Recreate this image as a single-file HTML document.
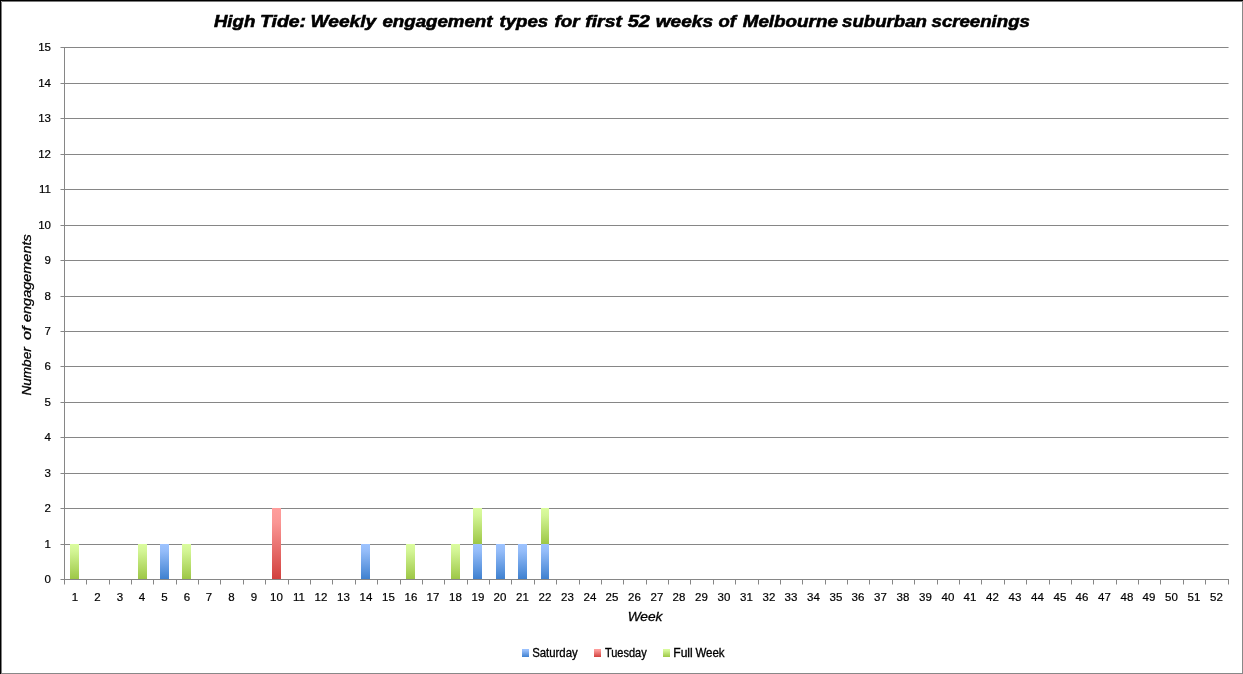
<!DOCTYPE html>
<html><head><meta charset="utf-8"><title>High Tide</title>
<style>
html,body{margin:0;padding:0;background:#fff;}
body{width:1243px;height:674px;overflow:hidden;}
svg{display:block;will-change:transform;}
text{font-family:"Liberation Sans",sans-serif;fill:#000;}
.tk{font-size:11.5px;stroke:#000;stroke-width:0.2px;}
</style></head><body>
<svg width="1243" height="674" viewBox="0 0 1243 674">
<defs>
<linearGradient id="gb" x1="0" y1="0" x2="0" y2="1"><stop offset="0" stop-color="#9DC3FF"/><stop offset="0.2" stop-color="#94BCF9"/><stop offset="1" stop-color="#3F81D0"/></linearGradient>
<linearGradient id="gr" x1="0" y1="0" x2="0" y2="1"><stop offset="0" stop-color="#FF9E9C"/><stop offset="0.2" stop-color="#FA9694"/><stop offset="1" stop-color="#D2413E"/></linearGradient>
<linearGradient id="gg" x1="0" y1="0" x2="0" y2="1"><stop offset="0" stop-color="#DBFC9E"/><stop offset="0.2" stop-color="#D3F595"/><stop offset="1" stop-color="#9DC746"/></linearGradient>
</defs>
<rect x="0" y="0" width="1243" height="674" fill="#fff"/>
<g stroke="#868686" stroke-width="1" shape-rendering="crispEdges">
<line x1="64.5" y1="544.5" x2="1228" y2="544.5"/>
<line x1="1228" y1="544.5" x2="1229" y2="544.5" stroke="#BDBDBD"/>
<line x1="64.5" y1="508.5" x2="1228" y2="508.5"/>
<line x1="1228" y1="508.5" x2="1229" y2="508.5" stroke="#BDBDBD"/>
<line x1="64.5" y1="473.5" x2="1228" y2="473.5"/>
<line x1="1228" y1="473.5" x2="1229" y2="473.5" stroke="#BDBDBD"/>
<line x1="64.5" y1="437.5" x2="1228" y2="437.5"/>
<line x1="1228" y1="437.5" x2="1229" y2="437.5" stroke="#BDBDBD"/>
<line x1="64.5" y1="402.5" x2="1228" y2="402.5"/>
<line x1="1228" y1="402.5" x2="1229" y2="402.5" stroke="#BDBDBD"/>
<line x1="64.5" y1="366.5" x2="1228" y2="366.5"/>
<line x1="1228" y1="366.5" x2="1229" y2="366.5" stroke="#BDBDBD"/>
<line x1="64.5" y1="331.5" x2="1228" y2="331.5"/>
<line x1="1228" y1="331.5" x2="1229" y2="331.5" stroke="#BDBDBD"/>
<line x1="64.5" y1="296.5" x2="1228" y2="296.5"/>
<line x1="1228" y1="296.5" x2="1229" y2="296.5" stroke="#BDBDBD"/>
<line x1="64.5" y1="260.5" x2="1228" y2="260.5"/>
<line x1="1228" y1="260.5" x2="1229" y2="260.5" stroke="#BDBDBD"/>
<line x1="64.5" y1="225.5" x2="1228" y2="225.5"/>
<line x1="1228" y1="225.5" x2="1229" y2="225.5" stroke="#BDBDBD"/>
<line x1="64.5" y1="189.5" x2="1228" y2="189.5"/>
<line x1="1228" y1="189.5" x2="1229" y2="189.5" stroke="#BDBDBD"/>
<line x1="64.5" y1="154.5" x2="1228" y2="154.5"/>
<line x1="1228" y1="154.5" x2="1229" y2="154.5" stroke="#BDBDBD"/>
<line x1="64.5" y1="118.5" x2="1228" y2="118.5"/>
<line x1="1228" y1="118.5" x2="1229" y2="118.5" stroke="#BDBDBD"/>
<line x1="64.5" y1="83.5" x2="1228" y2="83.5"/>
<line x1="1228" y1="83.5" x2="1229" y2="83.5" stroke="#BDBDBD"/>
<line x1="64.5" y1="47.5" x2="1228" y2="47.5"/>
<line x1="1228" y1="47.5" x2="1229" y2="47.5" stroke="#BDBDBD"/>
</g>
<rect x="70" y="544" width="9" height="35" fill="url(#gg)"/>
<rect x="138" y="544" width="9" height="35" fill="url(#gg)"/>
<rect x="160" y="544" width="9" height="35" fill="url(#gb)"/>
<rect x="182" y="544" width="9" height="35" fill="url(#gg)"/>
<rect x="272" y="508" width="9" height="71" fill="url(#gr)"/>
<rect x="361" y="544" width="9" height="35" fill="url(#gb)"/>
<rect x="406" y="544" width="9" height="35" fill="url(#gg)"/>
<rect x="451" y="544" width="9" height="35" fill="url(#gg)"/>
<rect x="473" y="544" width="9" height="35" fill="url(#gb)"/>
<rect x="473" y="508" width="9" height="36" fill="url(#gg)"/>
<rect x="496" y="544" width="9" height="35" fill="url(#gb)"/>
<rect x="518" y="544" width="9" height="35" fill="url(#gb)"/>
<rect x="541" y="544" width="8" height="35" fill="url(#gb)"/>
<rect x="541" y="508" width="8" height="36" fill="url(#gg)"/>
<g stroke="#868686" stroke-width="1" shape-rendering="crispEdges">
<line x1="64.5" y1="46.5" x2="64.5" y2="580.0"/>
<line x1="64.0" y1="579.5" x2="1229.0" y2="579.5"/>
<line x1="61" y1="579.5" x2="64.5" y2="579.5"/>
<line x1="60" y1="579.5" x2="61" y2="579.5" stroke="#C3C3C3"/>
<line x1="61" y1="544.5" x2="64.5" y2="544.5"/>
<line x1="60" y1="544.5" x2="61" y2="544.5" stroke="#C3C3C3"/>
<line x1="61" y1="508.5" x2="64.5" y2="508.5"/>
<line x1="60" y1="508.5" x2="61" y2="508.5" stroke="#C3C3C3"/>
<line x1="61" y1="473.5" x2="64.5" y2="473.5"/>
<line x1="60" y1="473.5" x2="61" y2="473.5" stroke="#C3C3C3"/>
<line x1="61" y1="437.5" x2="64.5" y2="437.5"/>
<line x1="60" y1="437.5" x2="61" y2="437.5" stroke="#C3C3C3"/>
<line x1="61" y1="402.5" x2="64.5" y2="402.5"/>
<line x1="60" y1="402.5" x2="61" y2="402.5" stroke="#C3C3C3"/>
<line x1="61" y1="366.5" x2="64.5" y2="366.5"/>
<line x1="60" y1="366.5" x2="61" y2="366.5" stroke="#C3C3C3"/>
<line x1="61" y1="331.5" x2="64.5" y2="331.5"/>
<line x1="60" y1="331.5" x2="61" y2="331.5" stroke="#C3C3C3"/>
<line x1="61" y1="296.5" x2="64.5" y2="296.5"/>
<line x1="60" y1="296.5" x2="61" y2="296.5" stroke="#C3C3C3"/>
<line x1="61" y1="260.5" x2="64.5" y2="260.5"/>
<line x1="60" y1="260.5" x2="61" y2="260.5" stroke="#C3C3C3"/>
<line x1="61" y1="225.5" x2="64.5" y2="225.5"/>
<line x1="60" y1="225.5" x2="61" y2="225.5" stroke="#C3C3C3"/>
<line x1="61" y1="189.5" x2="64.5" y2="189.5"/>
<line x1="60" y1="189.5" x2="61" y2="189.5" stroke="#C3C3C3"/>
<line x1="61" y1="154.5" x2="64.5" y2="154.5"/>
<line x1="60" y1="154.5" x2="61" y2="154.5" stroke="#C3C3C3"/>
<line x1="61" y1="118.5" x2="64.5" y2="118.5"/>
<line x1="60" y1="118.5" x2="61" y2="118.5" stroke="#C3C3C3"/>
<line x1="61" y1="83.5" x2="64.5" y2="83.5"/>
<line x1="60" y1="83.5" x2="61" y2="83.5" stroke="#C3C3C3"/>
<line x1="61" y1="47.5" x2="64.5" y2="47.5"/>
<line x1="60" y1="47.5" x2="61" y2="47.5" stroke="#C3C3C3"/>
<line x1="64.5" y1="579.5" x2="64.5" y2="584"/>
<line x1="64.5" y1="584" x2="64.5" y2="585" stroke="#C3C3C3"/>
<line x1="86.5" y1="579.5" x2="86.5" y2="584"/>
<line x1="86.5" y1="584" x2="86.5" y2="585" stroke="#C3C3C3"/>
<line x1="109.5" y1="579.5" x2="109.5" y2="584"/>
<line x1="109.5" y1="584" x2="109.5" y2="585" stroke="#C3C3C3"/>
<line x1="131.5" y1="579.5" x2="131.5" y2="584"/>
<line x1="131.5" y1="584" x2="131.5" y2="585" stroke="#C3C3C3"/>
<line x1="153.5" y1="579.5" x2="153.5" y2="584"/>
<line x1="153.5" y1="584" x2="153.5" y2="585" stroke="#C3C3C3"/>
<line x1="176.5" y1="579.5" x2="176.5" y2="584"/>
<line x1="176.5" y1="584" x2="176.5" y2="585" stroke="#C3C3C3"/>
<line x1="198.5" y1="579.5" x2="198.5" y2="584"/>
<line x1="198.5" y1="584" x2="198.5" y2="585" stroke="#C3C3C3"/>
<line x1="220.5" y1="579.5" x2="220.5" y2="584"/>
<line x1="220.5" y1="584" x2="220.5" y2="585" stroke="#C3C3C3"/>
<line x1="243.5" y1="579.5" x2="243.5" y2="584"/>
<line x1="243.5" y1="584" x2="243.5" y2="585" stroke="#C3C3C3"/>
<line x1="265.5" y1="579.5" x2="265.5" y2="584"/>
<line x1="265.5" y1="584" x2="265.5" y2="585" stroke="#C3C3C3"/>
<line x1="288.5" y1="579.5" x2="288.5" y2="584"/>
<line x1="288.5" y1="584" x2="288.5" y2="585" stroke="#C3C3C3"/>
<line x1="310.5" y1="579.5" x2="310.5" y2="584"/>
<line x1="310.5" y1="584" x2="310.5" y2="585" stroke="#C3C3C3"/>
<line x1="332.5" y1="579.5" x2="332.5" y2="584"/>
<line x1="332.5" y1="584" x2="332.5" y2="585" stroke="#C3C3C3"/>
<line x1="355.5" y1="579.5" x2="355.5" y2="584"/>
<line x1="355.5" y1="584" x2="355.5" y2="585" stroke="#C3C3C3"/>
<line x1="377.5" y1="579.5" x2="377.5" y2="584"/>
<line x1="377.5" y1="584" x2="377.5" y2="585" stroke="#C3C3C3"/>
<line x1="400.5" y1="579.5" x2="400.5" y2="584"/>
<line x1="400.5" y1="584" x2="400.5" y2="585" stroke="#C3C3C3"/>
<line x1="422.5" y1="579.5" x2="422.5" y2="584"/>
<line x1="422.5" y1="584" x2="422.5" y2="585" stroke="#C3C3C3"/>
<line x1="444.5" y1="579.5" x2="444.5" y2="584"/>
<line x1="444.5" y1="584" x2="444.5" y2="585" stroke="#C3C3C3"/>
<line x1="467.5" y1="579.5" x2="467.5" y2="584"/>
<line x1="467.5" y1="584" x2="467.5" y2="585" stroke="#C3C3C3"/>
<line x1="489.5" y1="579.5" x2="489.5" y2="584"/>
<line x1="489.5" y1="584" x2="489.5" y2="585" stroke="#C3C3C3"/>
<line x1="511.5" y1="579.5" x2="511.5" y2="584"/>
<line x1="511.5" y1="584" x2="511.5" y2="585" stroke="#C3C3C3"/>
<line x1="534.5" y1="579.5" x2="534.5" y2="584"/>
<line x1="534.5" y1="584" x2="534.5" y2="585" stroke="#C3C3C3"/>
<line x1="556.5" y1="579.5" x2="556.5" y2="584"/>
<line x1="556.5" y1="584" x2="556.5" y2="585" stroke="#C3C3C3"/>
<line x1="579.5" y1="579.5" x2="579.5" y2="584"/>
<line x1="579.5" y1="584" x2="579.5" y2="585" stroke="#C3C3C3"/>
<line x1="601.5" y1="579.5" x2="601.5" y2="584"/>
<line x1="601.5" y1="584" x2="601.5" y2="585" stroke="#C3C3C3"/>
<line x1="623.5" y1="579.5" x2="623.5" y2="584"/>
<line x1="623.5" y1="584" x2="623.5" y2="585" stroke="#C3C3C3"/>
<line x1="646.5" y1="579.5" x2="646.5" y2="584"/>
<line x1="646.5" y1="584" x2="646.5" y2="585" stroke="#C3C3C3"/>
<line x1="668.5" y1="579.5" x2="668.5" y2="584"/>
<line x1="668.5" y1="584" x2="668.5" y2="585" stroke="#C3C3C3"/>
<line x1="690.5" y1="579.5" x2="690.5" y2="584"/>
<line x1="690.5" y1="584" x2="690.5" y2="585" stroke="#C3C3C3"/>
<line x1="713.5" y1="579.5" x2="713.5" y2="584"/>
<line x1="713.5" y1="584" x2="713.5" y2="585" stroke="#C3C3C3"/>
<line x1="735.5" y1="579.5" x2="735.5" y2="584"/>
<line x1="735.5" y1="584" x2="735.5" y2="585" stroke="#C3C3C3"/>
<line x1="758.5" y1="579.5" x2="758.5" y2="584"/>
<line x1="758.5" y1="584" x2="758.5" y2="585" stroke="#C3C3C3"/>
<line x1="780.5" y1="579.5" x2="780.5" y2="584"/>
<line x1="780.5" y1="584" x2="780.5" y2="585" stroke="#C3C3C3"/>
<line x1="802.5" y1="579.5" x2="802.5" y2="584"/>
<line x1="802.5" y1="584" x2="802.5" y2="585" stroke="#C3C3C3"/>
<line x1="825.5" y1="579.5" x2="825.5" y2="584"/>
<line x1="825.5" y1="584" x2="825.5" y2="585" stroke="#C3C3C3"/>
<line x1="847.5" y1="579.5" x2="847.5" y2="584"/>
<line x1="847.5" y1="584" x2="847.5" y2="585" stroke="#C3C3C3"/>
<line x1="869.5" y1="579.5" x2="869.5" y2="584"/>
<line x1="869.5" y1="584" x2="869.5" y2="585" stroke="#C3C3C3"/>
<line x1="892.5" y1="579.5" x2="892.5" y2="584"/>
<line x1="892.5" y1="584" x2="892.5" y2="585" stroke="#C3C3C3"/>
<line x1="914.5" y1="579.5" x2="914.5" y2="584"/>
<line x1="914.5" y1="584" x2="914.5" y2="585" stroke="#C3C3C3"/>
<line x1="937.5" y1="579.5" x2="937.5" y2="584"/>
<line x1="937.5" y1="584" x2="937.5" y2="585" stroke="#C3C3C3"/>
<line x1="959.5" y1="579.5" x2="959.5" y2="584"/>
<line x1="959.5" y1="584" x2="959.5" y2="585" stroke="#C3C3C3"/>
<line x1="981.5" y1="579.5" x2="981.5" y2="584"/>
<line x1="981.5" y1="584" x2="981.5" y2="585" stroke="#C3C3C3"/>
<line x1="1004.5" y1="579.5" x2="1004.5" y2="584"/>
<line x1="1004.5" y1="584" x2="1004.5" y2="585" stroke="#C3C3C3"/>
<line x1="1026.5" y1="579.5" x2="1026.5" y2="584"/>
<line x1="1026.5" y1="584" x2="1026.5" y2="585" stroke="#C3C3C3"/>
<line x1="1049.5" y1="579.5" x2="1049.5" y2="584"/>
<line x1="1049.5" y1="584" x2="1049.5" y2="585" stroke="#C3C3C3"/>
<line x1="1071.5" y1="579.5" x2="1071.5" y2="584"/>
<line x1="1071.5" y1="584" x2="1071.5" y2="585" stroke="#C3C3C3"/>
<line x1="1093.5" y1="579.5" x2="1093.5" y2="584"/>
<line x1="1093.5" y1="584" x2="1093.5" y2="585" stroke="#C3C3C3"/>
<line x1="1116.5" y1="579.5" x2="1116.5" y2="584"/>
<line x1="1116.5" y1="584" x2="1116.5" y2="585" stroke="#C3C3C3"/>
<line x1="1138.5" y1="579.5" x2="1138.5" y2="584"/>
<line x1="1138.5" y1="584" x2="1138.5" y2="585" stroke="#C3C3C3"/>
<line x1="1160.5" y1="579.5" x2="1160.5" y2="584"/>
<line x1="1160.5" y1="584" x2="1160.5" y2="585" stroke="#C3C3C3"/>
<line x1="1183.5" y1="579.5" x2="1183.5" y2="584"/>
<line x1="1183.5" y1="584" x2="1183.5" y2="585" stroke="#C3C3C3"/>
<line x1="1205.5" y1="579.5" x2="1205.5" y2="584"/>
<line x1="1205.5" y1="584" x2="1205.5" y2="585" stroke="#C3C3C3"/>
<line x1="1228.5" y1="579.5" x2="1228.5" y2="584"/>
<line x1="1228.5" y1="584" x2="1228.5" y2="585" stroke="#C3C3C3"/>
</g>
<g class="tk" text-anchor="end">
<text x="51" y="583.0">0</text>
<text x="51" y="548.0">1</text>
<text x="51" y="512.0">2</text>
<text x="51" y="477.0">3</text>
<text x="51" y="441.0">4</text>
<text x="51" y="406.0">5</text>
<text x="51" y="370.0">6</text>
<text x="51" y="335.0">7</text>
<text x="51" y="300.0">8</text>
<text x="51" y="264.0">9</text>
<text x="51" y="229.0">10</text>
<text x="51" y="193.0">11</text>
<text x="51" y="158.0">12</text>
<text x="51" y="122.0">13</text>
<text x="51" y="87.0">14</text>
<text x="51" y="51.0">15</text>
</g>
<g class="tk" text-anchor="middle">
<text x="74.90" y="601">1</text>
<text x="97.40" y="601">2</text>
<text x="119.90" y="601">3</text>
<text x="141.90" y="601">4</text>
<text x="164.40" y="601">5</text>
<text x="186.90" y="601">6</text>
<text x="208.90" y="601">7</text>
<text x="231.40" y="601">8</text>
<text x="253.90" y="601">9</text>
<text x="276.40" y="601">10</text>
<text x="298.90" y="601">11</text>
<text x="320.90" y="601">12</text>
<text x="343.40" y="601">13</text>
<text x="365.90" y="601">14</text>
<text x="388.40" y="601">15</text>
<text x="410.90" y="601">16</text>
<text x="432.90" y="601">17</text>
<text x="455.40" y="601">18</text>
<text x="477.90" y="601">19</text>
<text x="499.90" y="601">20</text>
<text x="522.40" y="601">21</text>
<text x="544.90" y="601">22</text>
<text x="567.40" y="601">23</text>
<text x="589.90" y="601">24</text>
<text x="611.90" y="601">25</text>
<text x="634.40" y="601">26</text>
<text x="656.90" y="601">27</text>
<text x="678.90" y="601">28</text>
<text x="701.40" y="601">29</text>
<text x="723.90" y="601">30</text>
<text x="746.40" y="601">31</text>
<text x="768.90" y="601">32</text>
<text x="790.90" y="601">33</text>
<text x="813.40" y="601">34</text>
<text x="835.90" y="601">35</text>
<text x="857.90" y="601">36</text>
<text x="880.40" y="601">37</text>
<text x="902.90" y="601">38</text>
<text x="925.40" y="601">39</text>
<text x="947.90" y="601">40</text>
<text x="969.90" y="601">41</text>
<text x="992.40" y="601">42</text>
<text x="1014.90" y="601">43</text>
<text x="1037.40" y="601">44</text>
<text x="1059.90" y="601">45</text>
<text x="1081.90" y="601">46</text>
<text x="1104.40" y="601">47</text>
<text x="1126.90" y="601">48</text>
<text x="1148.90" y="601">49</text>
<text x="1171.40" y="601">50</text>
<text x="1193.90" y="601">51</text>
<text x="1216.40" y="601">52</text>
</g>
<g font-size="16" font-weight="bold" font-style="italic" stroke="#000" stroke-width="0.55">
<text transform="translate(213.91,26.6) scale(1.1652,1)">High</text>
<text transform="translate(259.98,26.6) scale(1.2168,1)">Tide:</text>
<text transform="translate(310.60,26.6) scale(1.1963,1)">Weekly</text>
<text transform="translate(382.42,26.6) scale(1.1692,1)">engagement</text>
<text transform="translate(499.42,26.6) scale(1.1679,1)">types</text>
<text transform="translate(554.41,26.6) scale(1.1767,1)">for</text>
<text transform="translate(585.30,26.6) scale(1.2099,1)">first</text>
<text transform="translate(627.69,26.6) scale(1.2522,1)">52</text>
<text transform="translate(655.81,26.6) scale(1.1914,1)">weeks</text>
<text transform="translate(718.42,26.6) scale(1.1556,1)">of</text>
<text transform="translate(742.71,26.6) scale(1.1776,1)">Melbourne</text>
<text transform="translate(842.11,26.6) scale(1.1639,1)">suburban</text>
<text transform="translate(931.51,26.6) scale(1.1665,1)">screenings</text>
</g>
<g font-size="13.5" font-style="italic" stroke="#000" stroke-width="0.3">
<text transform="translate(627.64,620.8) scale(1.0159,1)">Week</text>
<text transform="translate(30.8,395.55) rotate(-90) scale(1.0073,1)">Number</text>
<text transform="translate(30.8,340.00) rotate(-90) scale(1.2000,1)">of</text>
<text transform="translate(30.8,321.97) rotate(-90) scale(1.0724,1)">engagements</text>
</g>
<rect x="522" y="649" width="7" height="8" fill="url(#gb)"/>
<rect x="594" y="649" width="7" height="8" fill="url(#gr)"/>
<rect x="663" y="649" width="7" height="8" fill="url(#gg)"/>
<g font-size="11.5" stroke="#000" stroke-width="0.3">
<text transform="translate(532.20,656.6) scale(0.9902,1.04)">Saturday</text>
<text transform="translate(604.90,656.6) scale(0.9577,1.04)">Tuesday</text>
<text transform="translate(673.26,656.6) scale(1.0522,1.04)">Full</text>
<text transform="translate(695.40,656.6) scale(1.0017,1.04)">Week</text>
</g>
<g shape-rendering="crispEdges">
<rect x="0" y="0" width="1243" height="1" fill="#000"/>
<rect x="0" y="0" width="1" height="674" fill="#000"/>
<rect x="1" y="1" width="1241" height="1" fill="#7A7A7A"/>
<rect x="1" y="1" width="1" height="672" fill="#808080"/>
<rect x="1242" y="1" width="1" height="673" fill="#888888"/>
<rect x="1" y="673" width="1242" height="1" fill="#888888"/>
<rect x="1" y="1" width="1" height="1" fill="#A8A8A8"/>
</g>
</svg>
</body></html>
